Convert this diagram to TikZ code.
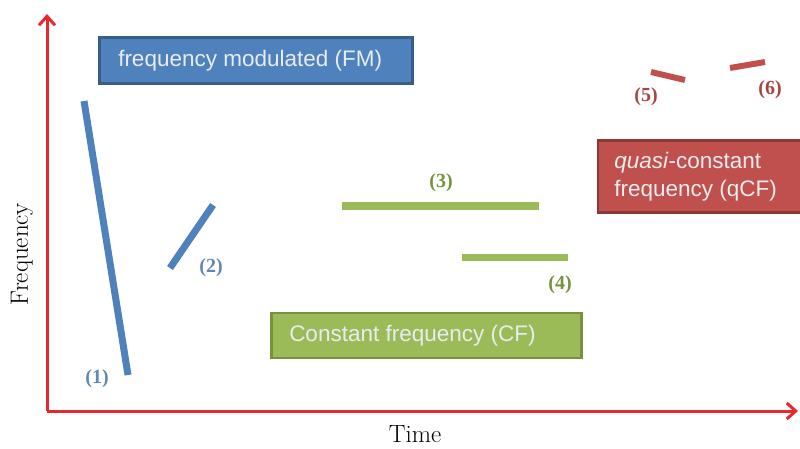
\documentclass[tikz,border=0pt]{standalone}
\usepackage{fontspec}
\setsansfont{Liberation Sans}
\newfontfamily\numfont{Liberation Serif}
\usetikzlibrary{arrows.meta}
\definecolor{axred}{RGB}{232,40,48}
\definecolor{fmblue}{RGB}{79,129,189}
\definecolor{fmborder}{RGB}{56,93,138}
\definecolor{lblblue}{RGB}{95,135,185}
\definecolor{cfgreen}{RGB}{155,187,89}
\definecolor{cfborder}{RGB}{118,146,60}
\definecolor{lblgreen}{RGB}{118,146,60}
\definecolor{qred}{RGB}{192,80,77}
\definecolor{qborder}{RGB}{140,56,54}
\definecolor{lblred}{RGB}{165,70,65}
\definecolor{boxtext}{RGB}{232,236,238}
\tikzset{
  axis/.style={draw=axred, line width=3pt, -{Straight Barb[length=9pt,width=16pt,line width=3pt]}},
  catbox/.style={line width=2.5pt, inner sep=0pt, font=\sffamily\fontsize{22.5}{28}\selectfont, text=boxtext},
  seg/.style={line width=7pt},
  num/.style={font=\numfont\bfseries\fontsize{20}{24}\selectfont},
  axlabel/.style={font=\fontsize{25}{30}\selectfont, text=black}
}
\begin{document}
\begin{tikzpicture}[x=1pt,y=-1pt]
\useasboundingbox (0,0) rectangle (800,449);
% axes
\coordinate (O) at (47,411);
\coordinate (ytop) at (47,14);
\coordinate (xend) at (798,411);
\draw[axis] (O) -- (ytop);
\draw[axis] (O) -- (xend);
\node[axlabel, rotate=90] (freq) at (22,254) {Frequency};
\node[axlabel] (time) at (415,434) {Time};
% FM box
\node[catbox, fill=fmblue, draw=fmborder, minimum width=313pt, minimum height=46pt] (fm) at (256,60.5) {};
\node[catbox, anchor=west] (fmt) at (117,60.5) {frequency modulated (FM)};
% CF box
\node[catbox, fill=cfgreen, draw=cfborder, minimum width=310pt, minimum height=45pt] (cf) at (426.5,335.5) {};
\node[catbox, anchor=west] (cft) at (288,335.5) {Constant frequency (CF)};
% qCF box
\node[catbox, fill=qred, draw=qborder, minimum width=210pt, minimum height=72pt] (qcf) at (703,176.5) {};
\node[catbox, anchor=west, align=left] (qcft) at (613,177) {\textit{quasi}-constant\\frequency (qCF)};
% FM segments
\coordinate (s1a) at (84,101);
\coordinate (s1b) at (128,375);
\draw[seg, fmblue] (s1a) -- (s1b);
\node[num, text=lblblue] (n1) at (97,379) {(1)};
\coordinate (s2a) at (170,268);
\coordinate (s2b) at (213,205);
\draw[seg, fmblue] (s2a) -- (s2b);
\node[num, text=lblblue] (n2) at (211,268) {(2)};
% CF segments
\coordinate (s3a) at (342,206);
\coordinate (s3b) at (539,206);
\draw[seg, cfgreen] (s3a) -- (s3b);
\node[num, text=lblgreen] (n3) at (441,183) {(3)};
\coordinate (s4a) at (462,257);
\coordinate (s4b) at (568,257);
\draw[seg, cfgreen] (s4a) -- (s4b);
\node[num, text=lblgreen] (n4) at (560,285) {(4)};
% qCF segments
\coordinate (s5a) at (651,72);
\coordinate (s5b) at (685,80);
\draw[line width=6pt, qred] (s5a) -- (s5b);
\node[num, text=lblred] (n5) at (646,97) {(5)};
\coordinate (s6a) at (730,68);
\coordinate (s6b) at (765,62);
\draw[line width=6pt, qred] (s6a) -- (s6b);
\node[num, text=lblred] (n6) at (770,90) {(6)};
\end{tikzpicture}
\end{document}
